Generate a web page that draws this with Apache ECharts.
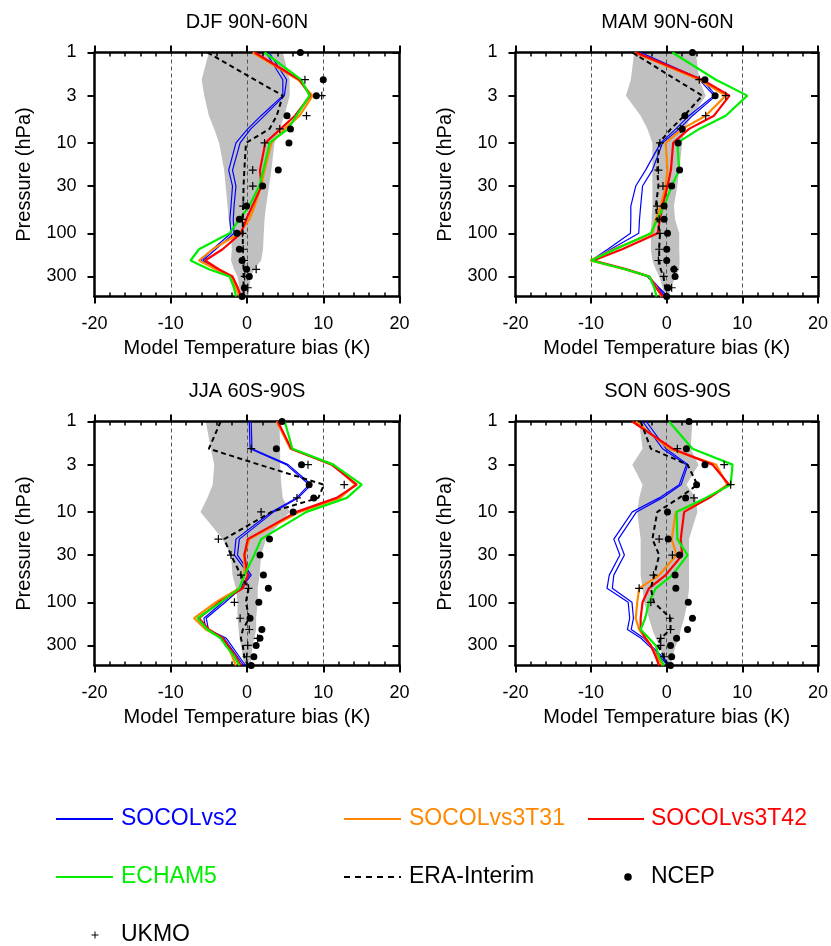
<!DOCTYPE html>
<html>
<head>
<meta charset="utf-8">
<script src="https://cdn.jsdelivr.net/npm/echarts@6/dist/echarts.min.js"></script>
<style>
html,body{margin:0;padding:0;background:#fff;}
#chart{width:831px;height:946px;}
</style>
</head>
<body>
<div id="chart"></div>
<script>
// Pressure levels (hPa)
const levels = [1,2,3,5,7,10,20,30,50,70,100,150,200,250,300,400,500];
const yTicks = [1,3,10,30,100,300];
const xTicks = [-20,-10,0,10,20];
const panelTitles = ['DJF 90N-60N','MAM 90N-60N','JJA 60S-90S','SON 60S-90S'];
const legendNames = ['SOCOLvs2','SOCOLvs3T31','SOCOLvs3T42','ECHAM5','ERA-Interim','NCEP','UKMO'];

// DJF 90N-60N
const djfGrayMin = [-5.0,-5.95,-5.6,-5.0,-4.3,-3.65,-3.0,-2.8,-2.55,-2.4,-2.1,-2.0,-2.1,-1.7,-1.25,-1.0,-0.8];
const djfGrayMax = [4.7,5.6,5.6,4.9,4.3,3.6,3.2,2.9,2.5,2.3,2.2,2.1,1.85,0.95,0.5,0.3,0.2];
const djfSOCOLvs2a = [2.5,4.7,4.7,1.85,0.1,-1.45,-2.4,-1.9,-2.1,-2.25,-2.1,-4.5,-6.1,-4.1,-2.3,-1.45,-1.0];
const djfSOCOLvs2b = [2.9,5.2,4.9,2.3,0.5,-0.9,-1.9,-1.45,-1.7,-1.8,-1.7,-4.1,-5.8,-3.7,-2.1,-1.2,-0.8];
const djfT31 = [0.75,6.7,8.6,6.9,4.9,3.2,2.3,1.85,1.0,0.3,-1.0,-4.5,-6.3,-4.1,-2.1,-1.45,-1.0];
const djfT42 = [1.0,6.9,8.3,6.3,4.4,2.4,1.7,1.9,0.7,-0.1,-0.8,-3.2,-5.5,-3.7,-1.9,-1.2,-0.8];
const djfECHAM5 = [2.3,7.1,8.2,6.5,5.4,2.95,2.15,1.6,0.3,-1.0,-2.3,-6.3,-7.4,-5.0,-2.3,-1.7,-1.45];
const djfERA = [-5.2,1.0,4.7,3.9,2.95,-0.13,-0.35,-0.45,-0.5,-0.55,-0.55,-0.55,-0.5,-0.45,-0.45,-0.45,-0.45];
const djfNCEP = [7.0,10.0,9.1,5.25,5.7,5.5,4.1,2.05,-0.05,-1.0,-1.3,-1.0,-0.65,-0.05,0.3,-0.35,-0.65];
const djfUKMO = [null,7.6,9.8,7.8,4.3,2.3,0.75,0.75,-0.5,-0.6,-0.6,-0.5,-0.4,1.2,-0.3,0.1,null];

// MAM 90N-60N
const mamGrayMin = [-4.3,-4.75,-5.4,-3.45,-2.55,-1.9,-1.9,-1.9,-1.9,-2.0,-2.1,-2.1,-1.9,-1.45,-1.0,-0.55,-0.35];
const mamGrayMax = [3.85,4.3,5.15,3.4,2.3,2.05,1.65,1.4,0.95,1.1,1.65,1.65,1.7,1.65,1.2,0.55,0.3];
const mamSOCOLvs2a = [-4.1,4.3,6.25,2.95,1.2,-0.8,-2.8,-4.1,-4.75,-4.75,-4.8,-7.8,-10.0,-5.6,-2.6,-1.2,-0.2];
const mamSOCOLvs2b = [-3.45,4.7,6.5,3.4,1.65,-0.55,-1.9,-3.2,-3.45,-3.6,-3.7,-7.4,-9.8,-5.3,-2.4,-1.0,0.1];
const mamT31 = [-4.3,4.3,7.8,5.15,2.05,-0.15,0.1,-0.15,-0.8,-1.45,-1.9,-7.0,-10.1,-5.6,-2.4,-1.3,-0.7];
const mamT42 = [-4.1,4.7,8.3,6.25,2.95,0.85,0.55,0.1,-0.55,-0.9,-1.2,-5.9,-9.7,-5.3,-2.3,-1.4,-0.5];
const mamECHAM5 = [0.75,6.5,10.65,7.8,4.3,1.4,1.65,0.65,-0.35,-1.25,-2.1,-6.8,-10.0,-5.5,-2.3,-1.65,-1.35];
const mamERA = [-4.55,1.25,4.7,2.3,0.55,-1.0,-1.25,-1.1,-1.45,-1.25,-0.9,-1.0,-1.0,-0.8,-0.45,-0.2,0.1];
const mamNCEP = [3.4,5.05,6.4,2.4,2.05,1.5,1.7,0.65,-0.35,-0.35,0.1,0.0,0.0,0.95,1.1,0.15,0.0];
const mamUKMO = [null,4.3,7.8,5.15,1.85,-0.9,-1.1,-0.5,-1.25,-1.0,-0.9,-1.0,-1.1,1.0,-0.4,0.65,null];

// JJA 60S-90S
const jjaGrayMin = [-5.4,-4.75,-4.3,-4.5,-5.2,-6.1,-3.2,-2.1,-1.9,-1.45,-1.25,-1.25,-1.1,-1.0,-0.8,-0.55,-0.35];
const jjaGrayMax = [4.25,4.35,4.35,4.5,4.7,5.6,2.5,1.85,1.65,1.4,1.4,1.2,1.2,0.95,0.75,0.55,0.55];
const jjaSOCOLvs2a = [0.3,0.4,5.15,8.15,6.5,3.2,-1.45,-1.65,0.3,-1.0,-3.2,-5.65,-5.4,-3.0,-2.35,-1.25,-0.45];
const jjaSOCOLvs2b = [0.55,0.65,5.4,8.45,6.7,3.5,-1.0,-1.25,0.55,-0.8,-2.85,-5.35,-5.05,-2.7,-2.05,-1.0,-0.2];
const jjaT31 = [3.9,5.7,11.3,14.2,12.2,6.9,0.3,-0.35,-0.35,-1.0,-4.1,-6.95,-5.4,-3.2,-2.55,-1.9,-1.45];
const jjaT42 = [4.05,5.8,11.1,14.4,11.75,6.5,0.1,-0.35,0.1,-0.55,-3.65,-6.3,-5.0,-3.2,-2.55,-1.45,-0.8];
const jjaECHAM5 = [4.95,5.95,11.3,15.05,13.1,7.8,1.85,0.95,-0.35,-1.0,-3.45,-6.5,-5.2,-3.45,-2.8,-1.65,-1.0];
const jjaERA = [-3.45,-5.0,1.6,10.1,9.35,3.2,-3.0,-2.1,-0.8,0.2,-0.15,0.3,-0.55,-0.8,-0.55,-0.35,0.1];
const jjaNCEP = [4.6,3.85,7.15,8.15,8.75,6.05,2.95,1.7,2.15,2.8,1.55,0.4,1.95,1.7,1.2,0.9,0.55];
const jjaUKMO = [null,0.55,8.0,12.75,6.55,1.85,-3.75,-2.1,-0.8,0.2,-1.65,-0.9,0.3,1.4,0.1,-0.05,null];

// SON 60S-90S
const sonGrayMin = [-3.65,-3.2,-4.55,-3.2,-3.65,-3.9,-3.45,-3.45,-3.45,-3.2,-3.0,-2.35,-1.9,-1.45,-1.0,-0.55,-0.35];
const sonGrayMax = [3.4,3.15,4.2,2.6,3.85,4.05,2.95,2.95,2.95,2.95,2.75,2.3,1.85,1.65,1.2,0.75,0.55];
const sonSOCOLvs2a = [-3.2,-0.55,2.6,1.65,-1.0,-4.55,-7.0,-6.2,-7.6,-7.9,-5.1,-4.9,-5.2,-3.4,-2.4,-0.9,0.2];
const sonSOCOLvs2b = [-2.7,-0.1,2.8,1.9,-0.6,-4.0,-6.4,-5.6,-7.0,-7.2,-4.6,-4.4,-4.7,-3.0,-2.1,-0.6,0.5];
const sonT31 = [-4.1,0.3,6.5,8.0,5.6,1.2,0.65,1.3,-1.0,-3.65,-3.9,-4.1,-3.65,-2.8,-2.1,-1.25,-0.55];
const sonT42 = [-4.55,0.75,6.05,8.25,5.6,2.3,1.85,2.05,-0.15,-2.35,-3.2,-3.45,-3.45,-2.8,-2.1,-1.45,-1.0];
const sonECHAM5 = [0.3,3.4,8.7,8.45,5.15,1.3,1.4,2.75,0.75,-1.45,-2.35,-2.85,-3.45,-2.35,-1.45,-1.0,-0.35];
const sonERA = [-3.45,-2.1,2.75,4.05,1.65,-1.25,-1.9,-1.0,-1.65,-2.1,-1.7,0.5,0.5,-0.8,-1.2,-0.35,0.1];
const sonNCEP = [2.95,2.6,5.05,3.95,2.5,0.1,0.2,1.7,1.1,1.2,2.85,3.4,2.75,1.3,0.5,0.65,0.5];
const sonUKMO = [null,1.4,7.6,8.45,3.6,null,-1.0,0.75,-1.75,-3.65,-2.1,0.4,0.5,-0.8,-0.8,-0.35,null];

const panelData = [
  {gmin:djfGrayMin,gmax:djfGrayMax,s2a:djfSOCOLvs2a,s2b:djfSOCOLvs2b,t31:djfT31,t42:djfT42,ech:djfECHAM5,era:djfERA,ncep:djfNCEP,ukmo:djfUKMO},
  {gmin:mamGrayMin,gmax:mamGrayMax,s2a:mamSOCOLvs2a,s2b:mamSOCOLvs2b,t31:mamT31,t42:mamT42,ech:mamECHAM5,era:mamERA,ncep:mamNCEP,ukmo:mamUKMO},
  {gmin:jjaGrayMin,gmax:jjaGrayMax,s2a:jjaSOCOLvs2a,s2b:jjaSOCOLvs2b,t31:jjaT31,t42:jjaT42,ech:jjaECHAM5,era:jjaERA,ncep:jjaNCEP,ukmo:jjaUKMO},
  {gmin:sonGrayMin,gmax:sonGrayMax,s2a:sonSOCOLvs2a,s2b:sonSOCOLvs2b,t31:sonT31,t42:sonT42,ech:sonECHAM5,era:sonERA,ncep:sonNCEP,ukmo:sonUKMO}
];

const FONT = 'Liberation Sans, Arial, Helvetica, sans-serif';
const C_BLUE = '#0000ff', C_ORANGE = '#ff8800', C_RED = '#ff0000', C_GREEN = '#00ee00', C_GRAY = '#c0c0c0';
const gridPos = [
  {left:94.5, top:52.5, width:305, height:244},
  {left:515.5, top:52.5, width:304, height:244},
  {left:94.5, top:421.5, width:305, height:244},
  {left:515.5, top:421.5, width:304, height:244}
];
const PLUS = 'path://M3.4,0h1.2v3.4h3.4v1.2h-3.4v3.4h-1.2v-3.4h-3.4v-1.2h3.4z';

const grids = [], xAxes = [], yAxes = [], series = [], titles = [];
function pairs(vals){ const out=[]; vals.forEach((v,k)=>{ if(v!==null) out.push([v, levels[k]]); }); return out; }

gridPos.forEach((g, i) => {
  grids.push(Object.assign({containLabel:false}, g));
  titles.push({text: panelTitles[i], left: g.left + g.width/2, top: g.top - 40, textAlign:'center', padding:0,
    textStyle:{fontSize:20, fontWeight:'normal', color:'#000', fontFamily:FONT}});
  const axLine = {show:true, onZero:false, lineStyle:{color:'#000', width:2.5}};
  // bottom major
  xAxes.push({gridIndex:i, type:'value', min:-20, max:20, interval:10, position:'bottom',
    axisLine:axLine, axisTick:{show:true, length:7, lineStyle:{color:'#000', width:2}},
    axisLabel:{fontSize:18, color:'#000', margin:19, fontFamily:FONT, customValues: xTicks},
    splitLine:{show:true, lineStyle:{color:'#555', width:1, type:[4,3]}},
    name:'Model Temperature bias (K)', nameLocation:'middle', nameGap:42,
    nameTextStyle:{fontSize:20, color:'#000', fontFamily:FONT}});
  // bottom minor (inward)
  xAxes.push({gridIndex:i, type:'value', min:-20, max:20, interval:10, position:'bottom',
    axisLine:{show:false, onZero:false}, axisTick:{show:false, inside:true}, axisLabel:{show:false},
    splitLine:{show:false}, minorTick:{show:true, splitNumber:5, length:4, lineStyle:{color:'#000', width:1.5}}});
  // top major
  xAxes.push({gridIndex:i, type:'value', min:-20, max:20, interval:10, position:'top',
    axisLine:axLine, axisTick:{show:true, length:7, lineStyle:{color:'#000', width:2}},
    axisLabel:{show:false}, splitLine:{show:false}});
  // top minor
  xAxes.push({gridIndex:i, type:'value', min:-20, max:20, interval:10, position:'top',
    axisLine:{show:false, onZero:false}, axisTick:{show:false, inside:true}, axisLabel:{show:false},
    splitLine:{show:false}, minorTick:{show:true, splitNumber:5, length:4, lineStyle:{color:'#000', width:1.5}}});
  // left y
  yAxes.push({gridIndex:i, type:'log', logBase:10, min:1, max:500, inverse:true, position:'left',
    axisLine:axLine, axisTick:{show:true, length:7, customValues:yTicks, lineStyle:{color:'#000', width:2}},
    axisLabel:{fontSize:18, color:'#000', margin:18, fontFamily:FONT, customValues:yTicks, formatter: v => String(v)},
    splitLine:{show:false}, minorTick:{show:false},
    name:'Pressure (hPa)', nameLocation:'middle', nameGap:60, nameRotate:90,
    nameTextStyle:{fontSize:20, color:'#000', fontFamily:FONT}});
  // right y
  yAxes.push({gridIndex:i, type:'log', logBase:10, min:1, max:500, inverse:true, position:'right',
    axisLine:axLine, axisTick:{show:true, inside:true, length:7, customValues:yTicks, lineStyle:{color:'#000', width:2}},
    axisLabel:{show:false}, splitLine:{show:false}, minorTick:{show:false}});

  const d = panelData[i];
  const xi = i*4, yi = i*2;
  series.push({type:'custom', xAxisIndex:xi, yAxisIndex:yi, z:-1, silent:true, animation:false,
    data:[[0,10]],
    renderItem:(params, api) => {
      const pts = [];
      for (let k=0;k<levels.length;k++) pts.push(api.coord([d.gmin[k], levels[k]]));
      for (let k=levels.length-1;k>=0;k--) pts.push(api.coord([d.gmax[k], levels[k]]));
      return {type:'polygon', shape:{points:pts}, style:{fill:C_GRAY, stroke:null}};
    }});
  const line = (name, vals, color, width, z, type) => ({
    type:'line', name, xAxisIndex:xi, yAxisIndex:yi, data:pairs(vals), showSymbol:false, symbol:'none',
    silent:true, animation:false, z, lineStyle:{color, width, type: type || 'solid'}
  });
  series.push(line('SOCOLvs2', d.s2a, C_BLUE, 1.2, 3));
  series.push(line('SOCOLvs2', d.s2b, C_BLUE, 1.2, 3));
  series.push(line('SOCOLvs3T31', d.t31, C_ORANGE, 2.2, 4));
  series.push(line('SOCOLvs3T42', d.t42, C_RED, 2.2, 5));
  series.push(line('ECHAM5', d.ech, C_GREEN, 2.2, 6));
  series.push(line('ERA-Interim', d.era, '#000', 2, 7, [5,3.5]));
  series.push({type:'scatter', name:'NCEP', xAxisIndex:xi, yAxisIndex:yi, data:pairs(d.ncep), symbol:'circle',
    symbolSize:7, itemStyle:{color:'#000', opacity:1}, silent:true, animation:false, z:8});
  series.push({type:'scatter', name:'UKMO', xAxisIndex:xi, yAxisIndex:yi, data:pairs(d.ukmo), symbol:PLUS,
    symbolSize:8, itemStyle:{color:'#000', opacity:1}, silent:true, animation:false, z:8});
});

// Legend drawn as graphic elements
const legendItems = [
  {name:legendNames[0], kind:'line', color:C_BLUE, textColor:C_BLUE, x1:56, x2:113, tx:121, y:819},
  {name:legendNames[1], kind:'line', color:C_ORANGE, textColor:C_ORANGE, x1:344, x2:401, tx:409, y:819},
  {name:legendNames[2], kind:'line', color:C_RED, textColor:C_RED, x1:588, x2:644, tx:651, y:819},
  {name:legendNames[3], kind:'line', color:C_GREEN, textColor:C_GREEN, x1:56, x2:113, tx:121, y:877},
  {name:legendNames[4], kind:'dash', color:'#000', textColor:'#000', x1:344, x2:401, tx:409, y:877},
  {name:legendNames[5], kind:'dot', color:'#000', textColor:'#000', x1:628, tx:651, y:877},
  {name:legendNames[6], kind:'plus', color:'#000', textColor:'#000', x1:95, tx:121, y:935}
];
const graphics = [];
legendItems.forEach(it => {
  if (it.kind === 'line' || it.kind === 'dash') {
    graphics.push({type:'line', shape:{x1:it.x1, y1:it.y, x2:it.x2, y2:it.y},
      style:{stroke:it.color, lineWidth:2, lineDash: it.kind==='dash' ? [6,5] : null}});
  } else if (it.kind === 'dot') {
    graphics.push({type:'circle', shape:{cx:it.x1, cy:it.y, r:3.8}, style:{fill:'#000'}});
  } else {
    graphics.push({type:'line', shape:{x1:it.x1-3.5, y1:it.y, x2:it.x1+3.5, y2:it.y}, style:{stroke:'#000', lineWidth:1}});
    graphics.push({type:'line', shape:{x1:it.x1, y1:it.y-3.5, x2:it.x1, y2:it.y+3.5}, style:{stroke:'#000', lineWidth:1}});
  }
  graphics.push({type:'text', x:it.tx, y:it.y, style:{text:it.name, fill:it.textColor, font:'23px ' + FONT,
    textAlign:'left', textVerticalAlign:'middle'}});
});

const chart = echarts.init(document.getElementById('chart'), null, {renderer:'canvas'});
chart.setOption({
  animation:false,
  backgroundColor:'#fff',
  textStyle:{fontFamily:FONT},
  title:titles,
  grid:grids,
  xAxis:xAxes,
  yAxis:yAxes,
  series:series,
  graphic:graphics
});
</script>
</body>
</html>
